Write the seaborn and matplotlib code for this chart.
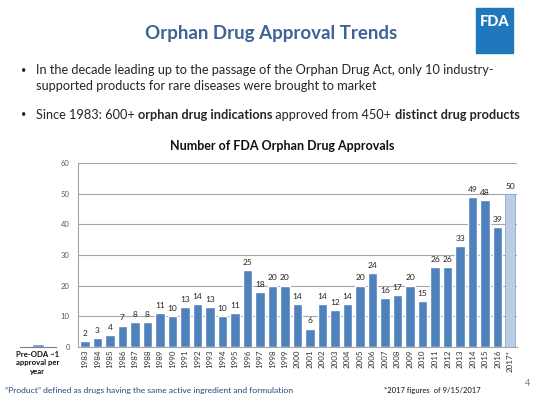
import matplotlib
matplotlib.use("Agg")
import matplotlib.pyplot as plt
import matplotlib.patches as mpatches
import pandas as pd
import seaborn as sns

YEARS = [str(y) for y in range(1983, 2017)] + ["2017*"]
APPROVALS = [2, 3, 4, 7, 8, 8, 11, 10, 13, 14, 13, 10, 11, 25, 18, 20, 20,
             14, 6, 14, 12, 14, 20, 24, 16, 17, 20, 15, 26, 26, 33, 49, 48, 39, 50]
PRE_ODA_LABEL = ["Pre-ODA ~1\napproval per\nyear"]
PRE_ODA_VALUE = [1]
Y_TICKS = [0, 10, 20, 30, 40, 50, 60]

BAR_COLOR = "#4F81BD"
PARTIAL_COLOR = "#B9CDE5"
TITLE_COLOR = "#3C6496"
FONT = ["Lato", "DejaVu Sans"]

W, H = 537, 399


def px_axes(fig, x0, y0, x1, y1):
    """Add axes from pixel box (top-left origin)."""
    return fig.add_axes([x0 / W, (H - y1) / H, (x1 - x0) / W, (y1 - y0) / H])


def main():
    sns.set_theme(style="white")
    plt.rcParams["font.family"] = FONT

    fig = plt.figure(figsize=(W / 100, H / 100), dpi=100)

    # slide title and FDA logo
    fig.text(271 / W, 1 - 33 / H, "Orphan Drug Approval Trends", ha="center",
             va="center", fontsize=13.5, fontweight="bold", color=TITLE_COLOR)
    logo = mpatches.Rectangle((476 / W, 1 - 53 / H), 37 / W, 45 / H,
                              transform=fig.transFigure, color="#1F77BC")
    fig.patches.append(logo)
    fig.text(494.5 / W, 1 - 22 / H, "FDA", ha="center", va="center",
             fontsize=10.5, fontweight="black", color="white")

    # bullets
    fs = 9.2
    fig.text(21 / W, 1 - 70 / H, "•", fontsize=6.5, va="center")
    fig.text(36 / W, 1 - 70 / H,
             "In the decade leading up to the passage of the Orphan Drug Act, only 10 industry-",
             fontsize=fs, va="center")
    fig.text(36 / W, 1 - 86 / H,
             "supported products for rare diseases were brought to market",
             fontsize=fs, va="center")
    fig.text(21 / W, 1 - 115 / H, "•", fontsize=6.5, va="center")
    pieces = [("Since 1983: 600+ ", "normal"), ("orphan drug indications", "bold"),
              (" approved from 450+ ", "normal"), ("distinct drug products", "bold")]
    renderer = fig.canvas.get_renderer()
    x = 36
    for txt, weight in pieces:
        t = fig.text(x / W, 1 - 115 / H, txt, fontsize=fs, fontweight=weight,
                     va="center")
        x += t.get_window_extent(renderer).width

    # main chart
    df = pd.DataFrame({"year": YEARS, "approvals": APPROVALS})
    colors = [BAR_COLOR] * (len(YEARS) - 1) + [PARTIAL_COLOR]
    ax = px_axes(fig, 78, 163, 517, 347)
    sns.barplot(data=df, x="year", y="approvals", hue="year", palette=colors,
                legend=False, width=0.76, saturation=1, ax=ax)
    ax.patches[-1].set_edgecolor("#8EA9CF")
    ax.patches[-1].set_linewidth(0.6)
    for c in ax.containers:
        ax.bar_label(c, fontsize=6, padding=3, color="#222222")

    ax.set_ylim(0, 60)
    ax.set_xlim(-0.55, len(YEARS) - 0.45)
    ax.set_yticks(Y_TICKS)
    ax.yaxis.grid(True, color="#A6A6A6", linewidth=0.8)
    ax.set_axisbelow(True)
    ax.tick_params(axis="y", labelsize=5.5, colors="#595959", length=0, pad=6)
    ax.tick_params(axis="x", labelsize=5.8, colors="#333333", rotation=90,
                   length=0, pad=2)
    ax.set_xlabel("")
    ax.set_ylabel("")
    for s in ["top", "right"]:
        ax.spines[s].set_visible(False)
    for s in ["left", "bottom"]:
        ax.spines[s].set_color("#A6A6A6")
        ax.spines[s].set_linewidth(0.8)
    fig.text(282 / W, 1 - 146 / H, "Number of FDA Orphan Drug Approvals",
             ha="center", va="center", fontsize=9, fontweight="bold",
             color="#111111")

    # pre-ODA mini chart
    ax2 = px_axes(fig, 20, 163, 56, 347)
    pre = pd.DataFrame({"label": PRE_ODA_LABEL, "value": PRE_ODA_VALUE})
    sns.barplot(data=pre, x="label", y="value", color="#5B8FD4", saturation=1,
                width=0.34, ax=ax2)
    ax2.set_ylim(0, 60)
    ax2.set_xlim(-0.5, 0.5)
    ax2.set_yticks([])
    ax2.set_xlabel("")
    ax2.set_ylabel("")
    ax2.tick_params(axis="x", labelsize=5.6, length=0, pad=3, colors="#111111")
    for lbl in ax2.get_xticklabels():
        lbl.set_fontweight("bold")
    for s in ["top", "right", "left"]:
        ax2.spines[s].set_visible(False)
    ax2.spines["bottom"].set_color("#7F7F7F")
    ax2.spines["bottom"].set_linewidth(0.8)
    ax2.set_facecolor("none")

    # footer
    fig.text(5 / W, 1 - 390 / H,
             "\u201cProduct\u201d defined as drugs having the same active ingredient and formulation",
             fontsize=6.1, color="#1F497D", va="center")
    fig.text(384 / W, 1 - 390 / H, "*2017 figures  of 9/15/2017", fontsize=5.5,
             color="#111111", va="center")
    fig.text(525 / W, 1 - 384 / H, "4", fontsize=6.5, color="#4F81BD", va="center")

    fig.savefig("out.png", dpi=100)


if __name__ == "__main__":
    main()
